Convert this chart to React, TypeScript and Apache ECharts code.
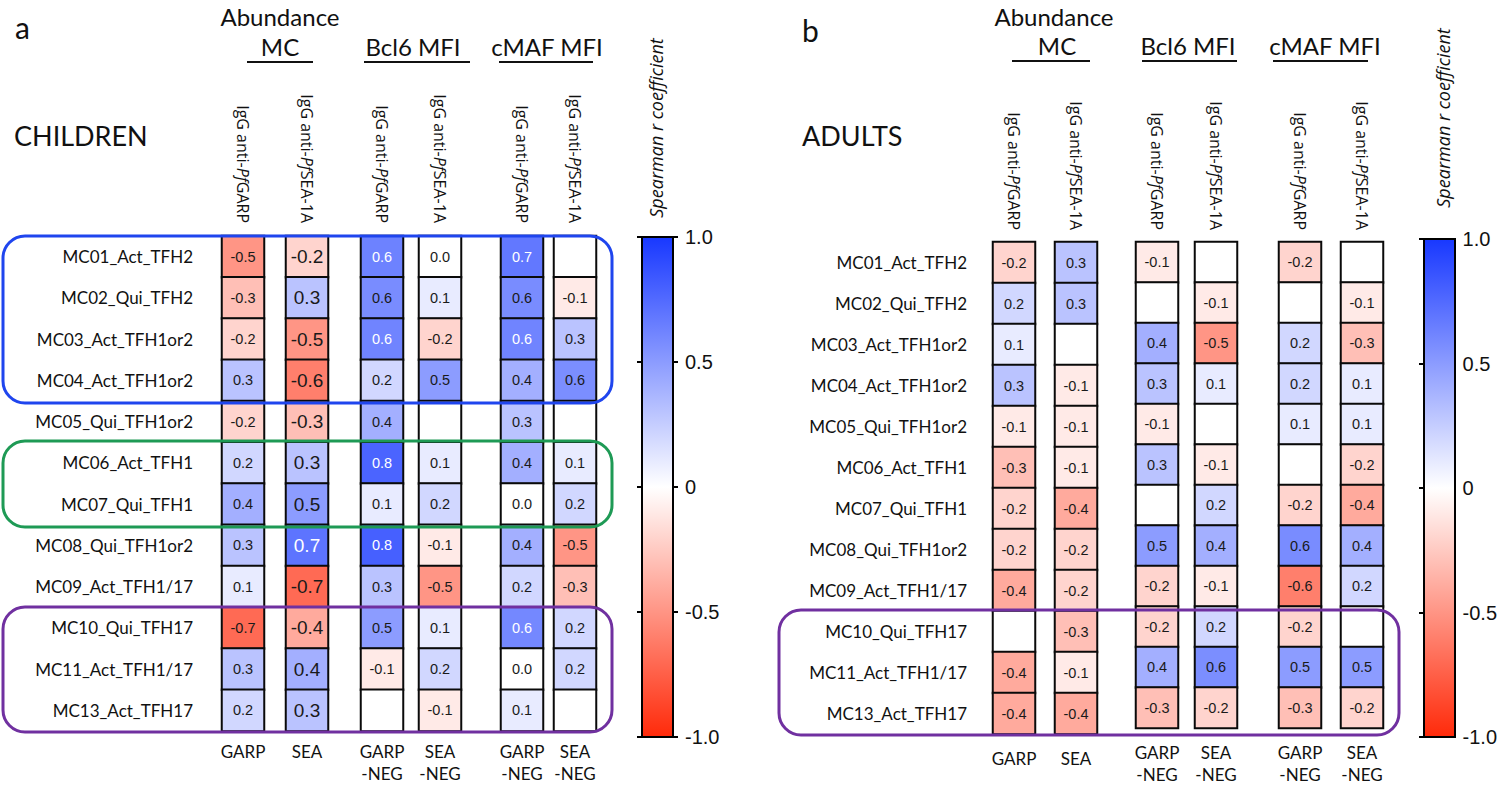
import React, { useEffect, useRef } from "react";
import * as echarts from "echarts";

// ---------- data ----------
const ROWS = [
  "MC01_Act_TFH2",
  "MC02_Qui_TFH2",
  "MC03_Act_TFH1or2",
  "MC04_Act_TFH1or2",
  "MC05_Qui_TFH1or2",
  "MC06_Act_TFH1",
  "MC07_Qui_TFH1",
  "MC08_Qui_TFH1or2",
  "MC09_Act_TFH1/17",
  "MC10_Qui_TFH17",
  "MC11_Act_TFH1/17",
  "MC13_Act_TFH17",
];
const COL_BOTTOM = ["GARP", "SEA", "GARP\n-NEG", "SEA\n-NEG", "GARP\n-NEG", "SEA\n-NEG"];
const COL_TOP = [
  "IgG anti-PfGARP",
  "IgG anti-PfSEA-1A",
  "IgG anti-PfGARP",
  "IgG anti-PfSEA-1A",
  "IgG anti-PfGARP",
  "IgG anti-PfSEA-1A",
];
const GROUP_LABELS = ["Abundance", "MC", "Bcl6 MFI", "cMAF MFI"];
const PANEL_LETTERS = ["a", "b"];
const PANEL_NAMES = ["CHILDREN", "ADULTS"];
const CBAR_TITLE = "Spearman r coefficient";
const CBAR_TICKS = ["-1.0", "-0.5", "0", "0.5", "1.0"];

// rows x columns (GARP, SEA, Bcl6 GARP-NEG, Bcl6 SEA-NEG, cMAF GARP-NEG, cMAF SEA-NEG); null = blank cell
const CHILDREN_VALUES: (number | null)[][] = [
  [-0.5, -0.2, 0.63, 0.0, 0.68, null],
  [-0.3, 0.3, 0.58, 0.1, 0.58, -0.1],
  [-0.2, -0.5, 0.62, -0.2, 0.62, 0.3],
  [0.3, -0.6, 0.2, 0.5, 0.4, 0.57],
  [-0.2, -0.3, 0.4, null, 0.3, null],
  [0.2, 0.3, 0.78, 0.1, 0.4, 0.1],
  [0.4, 0.5, 0.1, 0.2, 0.0, 0.2],
  [0.3, 0.7, 0.8, -0.1, 0.4, -0.5],
  [0.1, -0.7, 0.3, -0.5, 0.2, -0.3],
  [-0.7, -0.4, 0.5, 0.1, 0.6, 0.2],
  [0.3, 0.4, -0.1, 0.2, 0.0, 0.2],
  [0.2, 0.3, null, -0.1, 0.1, null],
];
const ADULT_VALUES: (number | null)[][] = [
  [-0.2, 0.3, -0.1, null, -0.2, null],
  [0.2, 0.3, null, -0.1, null, -0.1],
  [0.1, null, 0.4, -0.5, 0.2, -0.3],
  [0.3, -0.1, 0.3, 0.1, 0.2, 0.1],
  [-0.1, -0.1, -0.1, null, 0.1, 0.1],
  [-0.3, -0.1, 0.3, -0.1, null, -0.2],
  [-0.2, -0.4, null, 0.2, -0.2, -0.4],
  [-0.2, -0.2, 0.5, 0.4, 0.58, 0.4],
  [-0.4, -0.2, -0.2, -0.1, -0.6, 0.2],
  [null, -0.3, -0.2, 0.2, -0.2, null],
  [-0.4, -0.1, 0.4, 0.57, 0.5, 0.5],
  [-0.4, -0.4, -0.3, -0.2, -0.3, -0.2],
];

// ---------- layout ----------
const LABEL_FONT = "Lato, 'Open Sans', sans-serif";
const ROT_FONT = "'Open Sans', Lato, sans-serif";
const NUM_FONT = "'Liberation Sans Narrow', 'Liberation Sans', Arial, sans-serif";
const C_RED = "#ff2a0a";
const C_WHITE = "#ffffff";
const C_BLUE = "#1838ff";

const PANELS = [
  {
    values: CHILDREN_VALUES,
    colX: [222, 286, 361, 419, 501, 554],
    cellW: 42,
    top: 236,
    height: 495,
    rowMargin: 29,
    topMargin: 13,
    bottomMargin: 9,
    cellFont: [14.5, 19, 14.5, 14.5, 14.5, 14.5],
    cbar: { x: 642, y: 237, w: 31, h: 500 },
    letter: { x: 15, y: 27 },
    name: { x: 14, y: 135 },
    spearman: { x: 656, y: 128 },
    headers: [
      { x: 280, y: 16 },
      { x: 280, y: 46 },
      { x: 413, y: 46 },
      { x: 547, y: 46 },
    ],
    lines: [
      [247, 313],
      [364, 470],
      [499, 593],
    ],
    lineY: 62,
    boxes: [
      { x: 3, y: 236, w: 609, h: 167, c: "#1f45ee" },
      { x: 3, y: 441, w: 609, h: 86, c: "#1e9a55" },
      { x: 3, y: 607, w: 609, h: 125, c: "#7030a0" },
    ],
  },
  {
    values: ADULT_VALUES,
    colX: [993, 1055, 1136, 1195, 1279, 1341],
    cellW: 42,
    top: 242,
    height: 492,
    rowMargin: 26,
    topMargin: 12,
    bottomMargin: 13,
    cellFont: [14.5, 14.5, 14.5, 14.5, 14.5, 14.5],
    cbar: { x: 1424, y: 239, w: 31, h: 498 },
    letter: { x: 802, y: 30 },
    name: { x: 802, y: 135 },
    spearman: { x: 1443, y: 118 },
    headers: [
      { x: 1054, y: 16 },
      { x: 1057, y: 45 },
      { x: 1188, y: 45 },
      { x: 1325, y: 45 },
    ],
    lines: [
      [1012, 1090],
      [1142, 1237],
      [1273, 1368],
    ],
    lineY: 61,
    boxes: [{ x: 779, y: 610, w: 620, h: 125, c: "#7030a0" }],
  },
];

function fmt(v: number): string {
  const r = Math.round(v * 10) / 10;
  return (r === 0 ? 0 : r).toFixed(1);
}

function buildOption() {
  const grid: any[] = [];
  const xAxis: any[] = [];
  const yAxis: any[] = [];
  const series: any[] = [];
  const graphic: any[] = [];
  const heatIdx: number[] = [];

  PANELS.forEach((p, pi) => {
    p.colX.forEach((cx, ci) => {
      const gi = grid.length;
      grid.push({ left: cx, top: p.top, width: p.cellW, height: p.height, containLabel: false });
      const xb = xAxis.length;
      xAxis.push({
        type: "category",
        gridIndex: gi,
        position: "bottom",
        data: [COL_BOTTOM[ci]],
        axisLine: { show: false },
        axisTick: { show: false },
        axisLabel: {
          margin: p.bottomMargin,
          fontFamily: LABEL_FONT,
          fontSize: 17,
          lineHeight: 22,
          color: "#111",
          verticalAlign: "top",
        },
      });
      xAxis.push({
        type: "category",
        gridIndex: gi,
        position: "top",
        data: [COL_TOP[ci]],
        axisLine: { show: false },
        axisTick: { show: false },
        axisLabel: {
          rotate: 90,
          margin: p.topMargin,
          fontFamily: ROT_FONT,
          fontSize: 16,
          color: "#111",
          formatter: (s: string) => {
            const k = s.indexOf("Pf");
            return `{n|${s.slice(0, k)}}{i|Pf}{n|${s.slice(k + 2)}}`;
          },
          rich: {
            n: { fontFamily: ROT_FONT, fontSize: 16, color: "#111" },
            i: { fontStyle: "italic", fontFamily: ROT_FONT, fontSize: 16, color: "#111" },
          },
        },
      });
      const yi = yAxis.length;
      yAxis.push({
        type: "category",
        gridIndex: gi,
        inverse: true,
        data: ROWS,
        axisLine: { show: false },
        axisTick: { show: false },
        axisLabel: {
          show: ci === 0,
          margin: p.rowMargin,
          fontFamily: LABEL_FONT,
          fontSize: 17,
          color: "#111",
        },
      });
      const data = ROWS.map((_, ri) => {
        const v = p.values[ri][ci];
        return {
          value: [0, ri, v === null ? 0 : v],
          label: {
            show: v !== null,
            formatter: v === null ? "" : fmt(v),
            color: v !== null && v >= 0.6 ? "#ffffff" : "#1a1a1a",
            fontSize: p.cellFont[ci],
            fontFamily: NUM_FONT,
          },
        };
      });
      heatIdx.push(series.length);
      series.push({
        type: "heatmap",
        xAxisIndex: xb,
        yAxisIndex: yi,
        data,
        itemStyle: { borderColor: "#0a0a0a", borderWidth: 2 },
        emphasis: { disabled: true },
      });
    });

    // colour bar axes
    const cg = grid.length;
    grid.push({ left: p.cbar.x, top: p.cbar.y, width: p.cbar.w, height: p.cbar.h });
    xAxis.push({ type: "value", gridIndex: cg, show: false, min: 0, max: 1 });
    const tickFmt = (v: number) => {
      const i = Math.round((v + 1) / 0.5);
      return CBAR_TICKS[i] ?? "";
    };
    yAxis.push({
      type: "value",
      gridIndex: cg,
      position: "left",
      min: -1,
      max: 1,
      interval: 0.5,
      axisLine: { show: false },
      splitLine: { show: false },
      axisTick: { show: true, length: 5, lineStyle: { color: "#000", width: 2 } },
      axisLabel: { show: false },
    });
    yAxis.push({
      type: "value",
      gridIndex: cg,
      position: "right",
      min: -1,
      max: 1,
      interval: 0.5,
      axisLine: { show: false },
      splitLine: { show: false },
      axisTick: { show: true, length: 5, lineStyle: { color: "#000", width: 2 } },
      axisLabel: {
        margin: 12,
        fontFamily: "'Liberation Sans', Arial, sans-serif",
        fontSize: 20,
        color: "#111",
        formatter: tickFmt,
      },
    });
    graphic.push({
      type: "rect",
      z: 10,
      shape: { x: p.cbar.x, y: p.cbar.y, width: p.cbar.w, height: p.cbar.h },
      style: {
        fill: new echarts.graphic.LinearGradient(0, 0, 0, 1, [
          { offset: 0, color: C_BLUE },
          { offset: 0.5, color: C_WHITE },
          { offset: 1, color: C_RED },
        ]),
        stroke: "#000",
        lineWidth: 2,
      },
    });

    // texts
    graphic.push({
      type: "text",
      x: p.letter.x,
      y: p.letter.y,
      style: { text: PANEL_LETTERS[pi], font: `30px ${LABEL_FONT}`, fill: "#111", textVerticalAlign: "middle" },
    });
    graphic.push({
      type: "text",
      x: p.name.x,
      y: p.name.y,
      style: { text: PANEL_NAMES[pi], font: `27px ${LABEL_FONT}`, fill: "#111", textVerticalAlign: "middle" },
    });
    graphic.push({
      type: "text",
      x: p.spearman.x,
      y: p.spearman.y,
      rotation: Math.PI / 2,
      style: {
        text: CBAR_TITLE,
        font: `italic 18px 'Open Sans', ${LABEL_FONT}`,
        fill: "#111",
        textAlign: "center",
        textVerticalAlign: "middle",
      },
    });
    p.headers.forEach((h, hi) => {
      graphic.push({
        type: "text",
        x: h.x,
        y: h.y,
        style: {
          text: GROUP_LABELS[hi],
          font: `24px ${LABEL_FONT}`,
          fill: "#111",
          textAlign: "center",
          textVerticalAlign: "middle",
        },
      });
    });
    p.lines.forEach(([x1, x2]) => {
      graphic.push({
        type: "line",
        shape: { x1, y1: p.lineY, x2, y2: p.lineY },
        style: { stroke: "#111", lineWidth: 2 },
      });
    });
    p.boxes.forEach((b) => {
      graphic.push({
        type: "rect",
        z: 20,
        shape: { x: b.x, y: b.y, width: b.w, height: b.h, r: 22 },
        style: { fill: "none", stroke: b.c, lineWidth: 3 },
      });
    });
  });

  return {
    animation: false,
    backgroundColor: "#ffffff",
    grid,
    xAxis,
    yAxis,
    visualMap: {
      type: "continuous",
      show: false,
      min: -1,
      max: 1,
      dimension: 2,
      seriesIndex: heatIdx,
      inRange: { color: [C_RED, C_WHITE, C_BLUE] },
    },
    series,
    graphic,
  };
}

export default function App() {
  const ref = useRef<HTMLDivElement>(null);
  useEffect(() => {
    document.body.style.margin = "0";
    if (!ref.current) return;
    const chart = echarts.init(ref.current, undefined, { renderer: "svg" });
    chart.setOption(buildOption() as any);
    return () => chart.dispose();
  }, []);
  return <div ref={ref} style={{ width: 1500, height: 785 }} />;
}
